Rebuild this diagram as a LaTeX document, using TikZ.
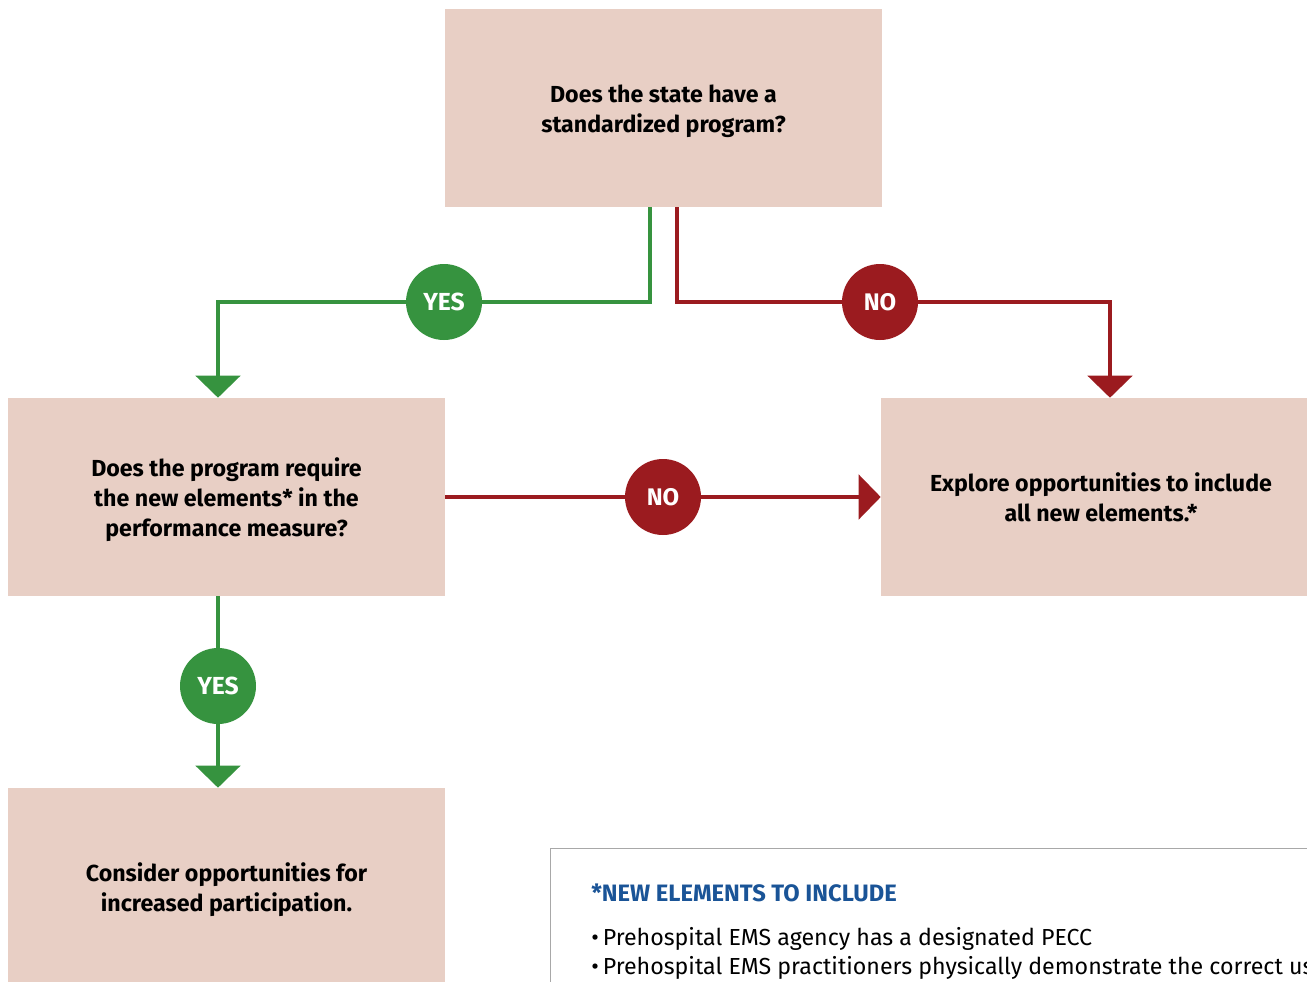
\documentclass[tikz,border=0pt]{standalone}
\usepackage{fontspec}
\setmainfont{Fira Sans}
\usetikzlibrary{arrows.meta,positioning}
\definecolor{boxfill}{HTML}{E8CFC5}
\definecolor{ygreen}{HTML}{36933F}
\definecolor{nred}{HTML}{9B1B1F}
\definecolor{tblue}{HTML}{1A5497}
\definecolor{lgray}{HTML}{A8A8A8}
\newcommand\topst{\rule{0pt}{19pt}}
\newcommand\botst{\rule[-4.5pt]{0pt}{0pt}}
\tikzset{
  qbox/.style={fill=boxfill, draw=none, minimum width=437*0.75pt, minimum height=198*0.75pt,
    inner sep=0pt, align=center, font=\fontsize{17.4}{22.5}\selectfont\bfseries},
  yesc/.style={circle, fill=ygreen, minimum size=76*0.75pt, inner sep=0pt, text=white,
    font=\fontsize{18.5}{20}\selectfont\bfseries},
  noc/.style={circle, fill=nred, minimum size=76*0.75pt, inner sep=0pt, text=white,
    font=\fontsize{18}{20}\selectfont\bfseries},
  gline/.style={draw=ygreen, line width=3.6pt, -{Triangle[width=33pt,length=16.5pt]}},
  rline/.style={draw=nred, line width=3.6pt, -{Triangle[width=33pt,length=16.5pt]}},
}
\begin{document}
\begin{tikzpicture}[x=0.75pt,y=-0.75pt]
\useasboundingbox (0,0) rectangle (1307,982);
\clip (0,0) rectangle (1307,982);
% boxes
\node[qbox] (q1) at (663.5,108) {\topst Does the state have a\\standardized program?\botst};
\node[qbox] (q2) at (226.5,497) {\topst Does the program require\\the new elements* in the\\performance measure?\botst};
\node[qbox, minimum width=440*0.75pt] (q3) at (1101,497) {\topst Explore opportunities to include\\all new elements.*\botst};
\node[qbox] (q4) at (226.5,887) {\topst Consider opportunities for\\increased participation.\botst};
% circles
\node[yesc] (yes1) at (444,302) {YES};
\node[noc] (no1) at (880,302) {NO};
\node[noc] (no2) at (663,497) {NO};
\node[yesc] (yes2) at (218,686) {YES};
% helper x positions
\coordinate (gx) at (650,0);
\coordinate (rx) at (677,0);
\coordinate (lx) at (218,0);
\coordinate (rrx) at (1110,0);
% connectors
\draw[gline] (q1.south -| gx) |- (yes1) -| (q2.north -| lx);
\draw[rline] (q1.south -| rx) |- (no1) -| (q3.north -| rrx);
\draw[rline] (q2.east) -- (no2) -- (q3.west);
\draw[gline] (q2.south -| lx) -- (yes2) -- (q4.north -| lx);
% legend
\node[draw=lgray, line width=0.9pt, fill=white, minimum width=800*0.75pt, minimum height=160*0.75pt,
  anchor=north west, inner sep=0pt] (legend) at (550,848) {};
\node[anchor=west, text=tblue, font=\fontsize{17.8}{20}\selectfont\bfseries, inner sep=0pt] (ltitle) at (591,893) {*NEW ELEMENTS TO INCLUDE};
\node[anchor=west, font=\fontsize{17.4}{21.75}\selectfont, inner sep=0pt, align=left] (litem1) at (591,939) {•\hspace{3pt}Prehospital EMS agency has a designated PECC};
\node[anchor=west, font=\fontsize{17.4}{21.75}\selectfont, inner sep=0pt, align=left] (litem2) at (591,968) {•\hspace{3pt}Prehospital EMS practitioners physically demonstrate the correct use};
\end{tikzpicture}
\end{document}
